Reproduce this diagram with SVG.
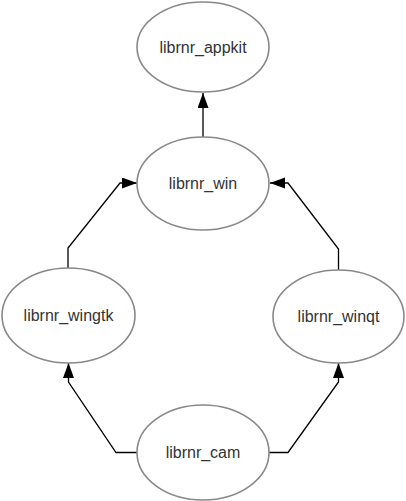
<svg xmlns="http://www.w3.org/2000/svg" width="406" height="501" viewBox="0 0 406 501">
<style>
.node ellipse{fill:#fff;stroke:#888;stroke-width:1.6}
.node text{font-family:"Liberation Sans",Arial,sans-serif;font-size:16px;fill:#333;text-anchor:middle}
.edge{fill:none;stroke:#000;stroke-width:1.3;marker-end:url(#arr)}
</style>
<defs>
<marker id="arr" markerUnits="userSpaceOnUse" markerWidth="16" markerHeight="12" refX="15" refY="5.5" orient="auto">
<path d="M0,0 L15,5.5 L0,11 z" fill="#000"/>
</marker>
</defs>
<rect width="406" height="501" fill="#fff"/>
<g id="connectors">
<path class="edge" d="M203,137 L203,93"/>
<path class="edge" d="M68,268 L68,248 L120,183 L137,183"/>
<path class="edge" d="M338.5,270 L338.5,249 L288,183 L270,183"/>
<path class="edge" d="M137,452.5 L116,452.5 L68.5,382 L68.5,363"/>
<path class="edge" d="M269,452.5 L288,452.5 L338.5,382 L338.5,363"/>
</g>
<g id="librnr_appkit" class="node"><ellipse cx="203" cy="47" rx="66" ry="45"/><text x="203" y="53">librnr_appkit</text></g>
<g id="librnr_win" class="node"><ellipse cx="203" cy="183.5" rx="66" ry="46.5"/><text x="203" y="189">librnr_win</text></g>
<g id="librnr_wingtk" class="node"><ellipse cx="68.5" cy="315.5" rx="66.5" ry="47.5"/><text x="68.5" y="321">librnr_wingtk</text></g>
<g id="librnr_winqt" class="node"><ellipse cx="338.5" cy="316.5" rx="65.5" ry="46.5"/><text x="338.5" y="322">librnr_winqt</text></g>
<g id="librnr_cam" class="node"><ellipse cx="203" cy="452.5" rx="66" ry="47.5"/><text x="203" y="458">librnr_cam</text></g>
</svg>
